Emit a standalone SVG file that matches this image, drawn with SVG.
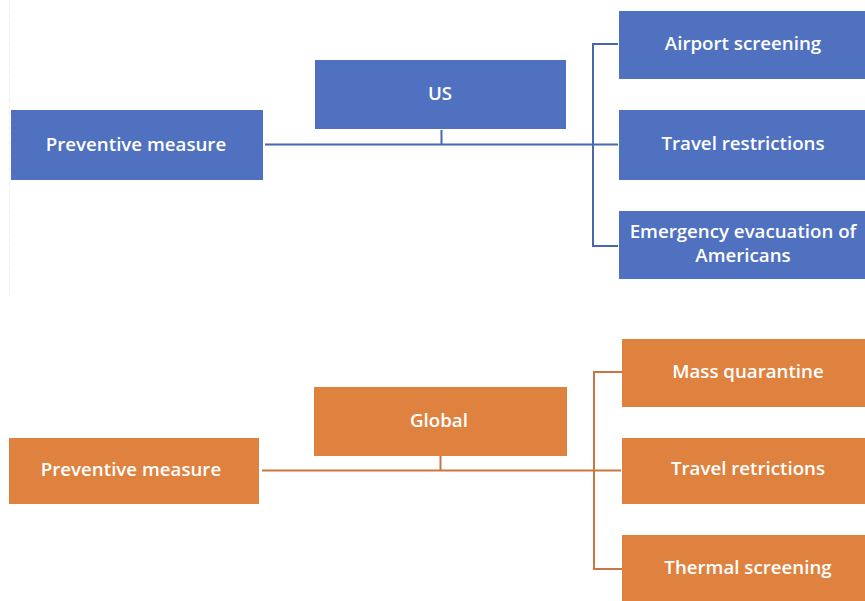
<svg xmlns="http://www.w3.org/2000/svg" width="865" height="601" viewBox="0 0 865 601">
<style>
.b{fill:#4F71BF}
.o{fill:#E0823F}
.t{fill:#FFFFFF;font-family:"Open Sans","Liberation Sans",sans-serif;font-weight:600;font-size:18.7px;text-anchor:middle;dominant-baseline:central}
.lb{stroke:#4767AE;stroke-width:2;fill:none}
.lo{stroke:#C97642;stroke-width:2;fill:none}
</style>
<rect width="865" height="601" fill="#FFFFFF"/>
<line x1="9.5" y1="0" x2="9.5" y2="296" stroke="#EEEEEE" stroke-width="1" stroke-dasharray="4 3"/>
<g id="connectors">
<path class="lb" d="M265 144.5H617M441.5 130V144.5M618 44H593V246H618M593 144.5H618"/>
<path class="lo" d="M262 470.5H621M440.5 456V470.5M622 372H594V569H622"/>
</g>
<g id="us-root"><rect class="b" x="11" y="110" width="252" height="70"/><text class="t" x="136" y="143">Preventive measure</text></g>
<g id="us"><rect class="b" x="315" y="60" width="251" height="69"/><text class="t" x="440" y="92">US</text></g>
<g id="us-airport"><rect class="b" x="619" y="11" width="250" height="68"/><text class="t" x="743" y="42">Airport screening</text></g>
<g id="us-travel"><rect class="b" x="619" y="110" width="250" height="70"/><text class="t" x="743" y="142">Travel restrictions</text></g>
<g id="us-evac"><rect class="b" x="619" y="211" width="250" height="68"/><text class="t" x="743" y="230">Emergency evacuation of</text><text class="t" x="743" y="254">Americans</text></g>
<g id="global-root"><rect class="o" x="9" y="438" width="250" height="66"/><text class="t" x="131" y="468">Preventive measure</text></g>
<g id="global"><rect class="o" x="314" y="387" width="253" height="69"/><text class="t" x="439" y="419">Global</text></g>
<g id="gl-mass"><rect class="o" x="622" y="339" width="252" height="68"/><text class="t" x="748" y="370">Mass quarantine</text></g>
<g id="gl-travel"><rect class="o" x="622" y="438" width="252" height="66"/><text class="t" x="748" y="467">Travel retrictions</text></g>
<g id="gl-thermal"><rect class="o" x="622" y="535" width="252" height="70"/><text class="t" x="748" y="566">Thermal screening</text></g>
</svg>
